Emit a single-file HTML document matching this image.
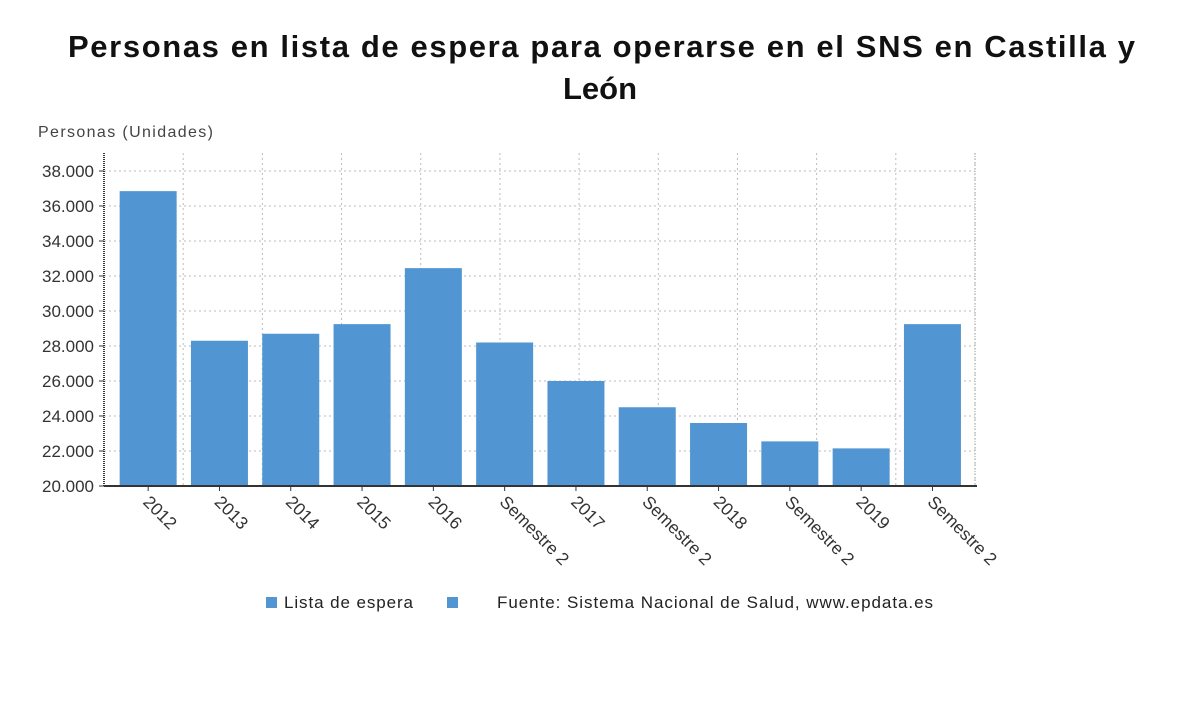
<!DOCTYPE html>
<html><head><meta charset="utf-8"><style>
body{margin:0;background:#fff;width:1200px;height:705px;overflow:hidden;font-family:"Liberation Sans",sans-serif;}
</style></head><body>
<svg width="1200" height="705">
<text x="68" y="57" textLength="1067" lengthAdjust="spacing" font-size="31" font-weight="bold" fill="#111">Personas en lista de espera para operarse en el SNS en Castilla y</text>
<text x="600" y="99" text-anchor="middle" font-size="31" font-weight="bold" fill="#111">León</text>
<text x="38" y="137" textLength="175" font-size="16" fill="#444">Personas (Unidades)</text>
<g id="grid"></g><g id="bars"></g><g id="axes"></g>
<g>
<rect x="266" y="597" width="11" height="11" fill="#5196d3"/>
<text x="284" y="608" textLength="129" font-size="17" fill="#222">Lista de espera</text>
<rect x="447" y="597" width="11" height="11" fill="#5196d3"/>
<text x="497" y="608" textLength="436" font-size="17" fill="#222">Fuente: Sistema Nacional de Salud, www.epdata.es</text>
</g>
</svg>
<script>
const categories=["2012","2013","2014","2015","2016","Semestre 2","2017","Semestre 2","2018","Semestre 2","2019","Semestre 2"];
const values=[36850,28300,28700,29250,32450,28200,26000,24500,23600,22550,22150,29250];
const yTicks=[20000,22000,24000,26000,28000,30000,32000,34000,36000,38000];
const tickLabels=["20.000","22.000","24.000","26.000","28.000","30.000","32.000","34.000","36.000","38.000"];
const NS="http://www.w3.org/2000/svg";
const L=104,R=975,T=153,B=486,yMin=20000,yMax=38000;
const y=v=>B-(v-yMin)/(yMax-yMin)*(B-171);
const band=71.3,start=112.5;
const xc=i=>start+band*(i+0.5);
function mk(p,tag,a){const e=document.createElementNS(NS,tag);for(const k in a)e.setAttribute(k,a[k]);document.getElementById(p).appendChild(e);return e;}
yTicks.forEach((t,i)=>{
 const g=mk('grid','line',{x1:L,x2:R,y1:y(t),y2:y(t),stroke:'#bbb','stroke-dasharray':'2,3'});
 
 
 const tk=mk('axes','line',{x1:L-5,x2:L,y1:y(t),y2:y(t),stroke:'#333'});
 
 
 const tx=mk('axes','text',{x:L-10,y:y(t)+6,'text-anchor':'end','font-size':17,fill:'#333'});
 tx.textContent=tickLabels[i];
 
 
});
for(let i=1;i<=11;i++){
 const gx=L+(R-L)/11*i;
 const g=mk('grid','line',{x1:gx,x2:gx,y1:T,y2:B,stroke:'#bbb','stroke-dasharray':'2,3'});
 
 
}
values.forEach((v,i)=>{
 const b=mk('bars','rect',{x:xc(i)-28.5,y:y(v),width:57,height:B-y(v),fill:'#5196d3'});
 
 
});
categories.forEach((c,i)=>{
 const x=xc(i);
 const tk=mk('axes','line',{x1:x,x2:x,y1:B,y2:B+5,stroke:'#333'});
 
 
 const tx=mk('axes','text',{x:x-6,y:B+17,'font-size':17.5,fill:'#333',transform:`rotate(45 ${x-6} ${B+17})`});
 tx.textContent=c;
 
 
});
const ya=mk('axes','line',{x1:L,x2:L,y1:T,y2:B,stroke:'#333','stroke-width':2,'stroke-dasharray':'1,1'});


const yr=mk('axes','line',{x1:R,x2:R,y1:T,y2:B,stroke:'#999','stroke-dasharray':'1,2'});


const xa=mk('axes','line',{x1:L,x2:R+2,y1:B,y2:B,stroke:'#333','stroke-width':2});


</script>
</body></html>
